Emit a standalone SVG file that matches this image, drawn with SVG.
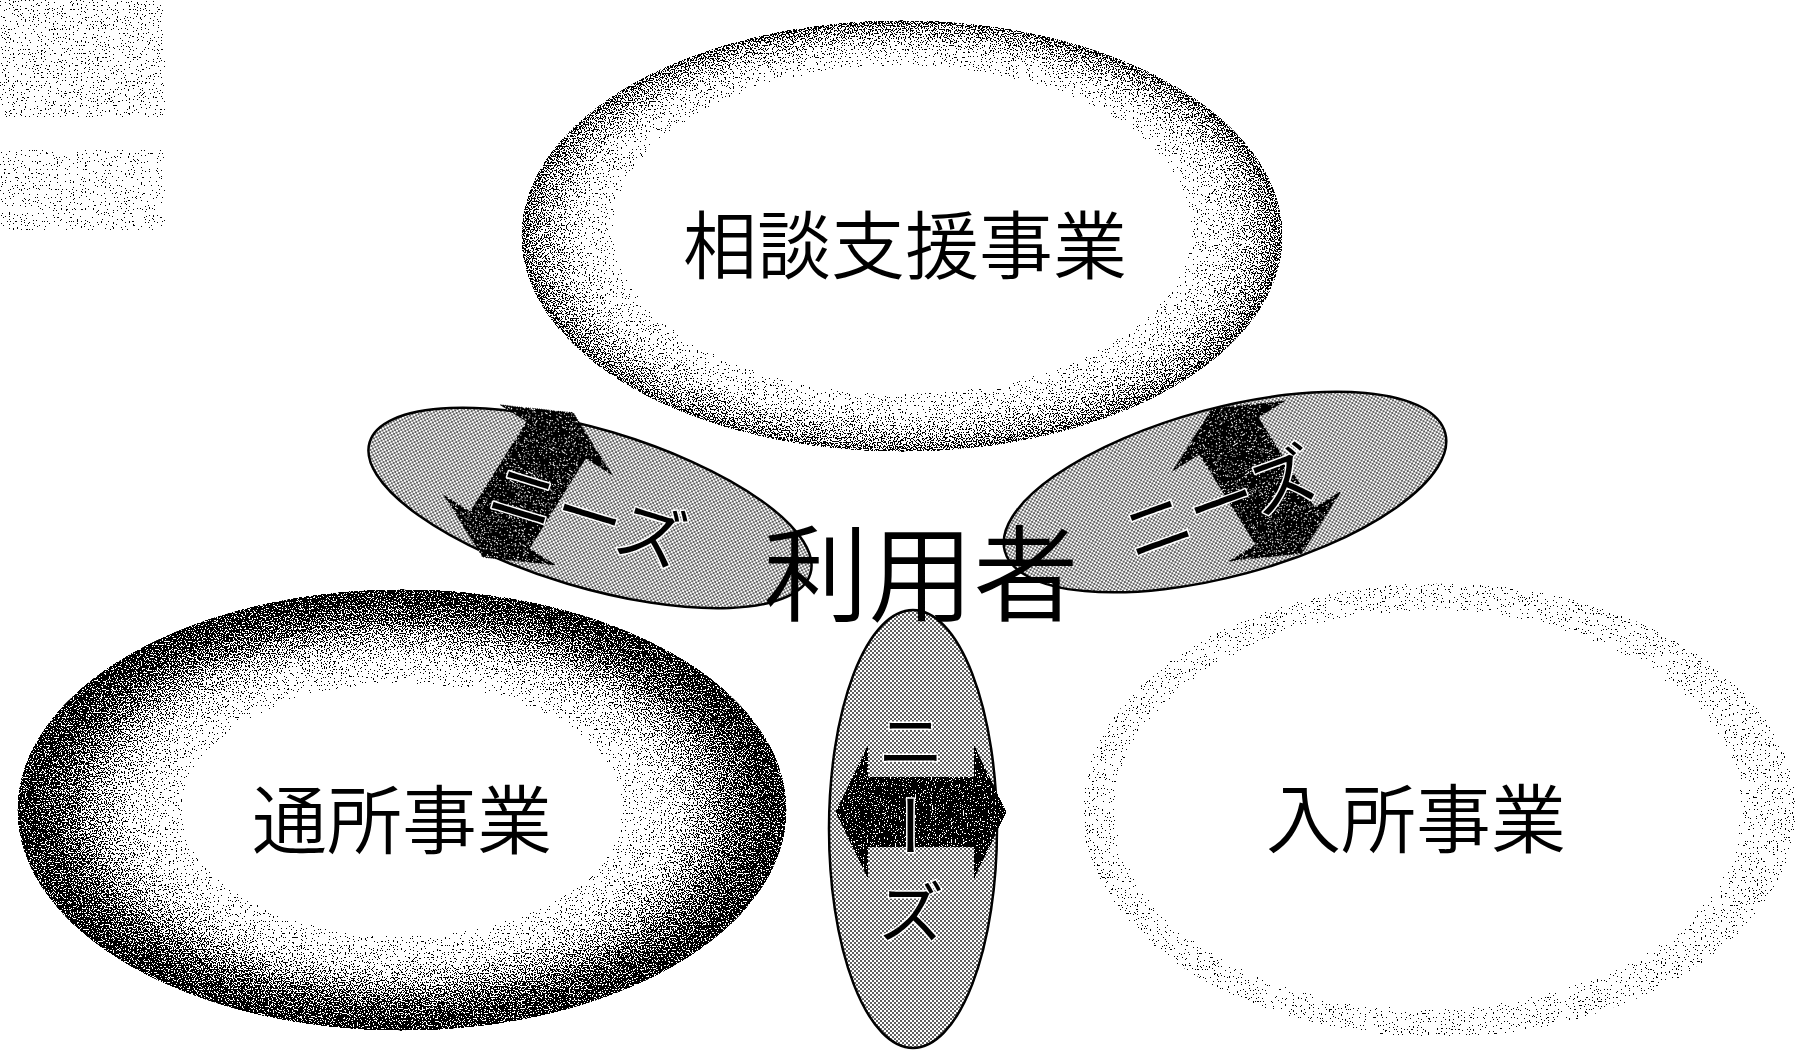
<svg xmlns="http://www.w3.org/2000/svg" width="1796" height="1052" viewBox="0 0 1796 1052">
  <style>
    .lbl { font-family: "Noto Sans CJK JP", "Noto Sans CJK SC", sans-serif; font-weight: 350; fill: #000; dominant-baseline: central; text-anchor: middle; }
    .big { font-size: 75px; }
    .need { font-size: 68px; font-weight: 400; stroke: #fff; stroke-width: 3px; paint-order: stroke; stroke-linejoin: round; }
    .bubble { fill: url(#dots); stroke: #000; stroke-width: 2.5; }
    .arrow { fill: #161616; filter: url(#dither); }
  </style>
  <defs>
    <filter id="dither" x="-3%" y="-3%" width="106%" height="106%" color-interpolation-filters="sRGB">
      <feTurbulence type="fractalNoise" baseFrequency="0.75" numOctaves="1" seed="7" result="t"/>
      <feColorMatrix in="t" type="matrix" values="3 0 0 0 -1  3 0 0 0 -1  3 0 0 0 -1  0 0 0 0 1" result="n"/>
      <feComposite in="SourceGraphic" in2="n" operator="arithmetic" k1="0" k2="20" k3="-20" k4="1" result="d"/>
      <feComponentTransfer in="d" result="b">
        <feFuncR type="discrete" tableValues="0 1"/>
        <feFuncG type="discrete" tableValues="0 1"/>
        <feFuncB type="discrete" tableValues="0 1"/>
      </feComponentTransfer>
      <feComposite in="b" in2="SourceGraphic" operator="in"/>
    </filter>
    <radialGradient id="gTop" cx="50%" cy="50%" r="50%" fx="50%" fy="44%">
      <stop offset="0" stop-color="#fff"/>
      <stop offset="0.74" stop-color="#fff"/>
      <stop offset="0.86" stop-color="#d8d8d8"/>
      <stop offset="0.95" stop-color="#949494"/>
      <stop offset="1" stop-color="#666"/>
    </radialGradient>
    <radialGradient id="gLeft" cx="50%" cy="50%" r="50%">
      <stop offset="0" stop-color="#fff"/>
      <stop offset="0.55" stop-color="#fff"/>
      <stop offset="0.7" stop-color="#d4d4d4"/>
      <stop offset="0.83" stop-color="#7a7a7a"/>
      <stop offset="0.94" stop-color="#3a3a3a"/>
      <stop offset="1" stop-color="#2a2a2a"/>
    </radialGradient>
    <radialGradient id="gRight" cx="50%" cy="50%" r="50%" fx="38%" fy="50%">
      <stop offset="0" stop-color="#fff"/>
      <stop offset="0.78" stop-color="#fff"/>
      <stop offset="0.92" stop-color="#f6f6f6"/>
      <stop offset="1" stop-color="#eaeaea"/>
    </radialGradient>
    <pattern id="dots" width="4" height="4" patternUnits="userSpaceOnUse">
      <rect width="4" height="4" fill="#fff"/>
      <rect width="2" height="2" fill="#606060"/>
      <rect x="2" y="2" width="2" height="2" fill="#606060"/>
    </pattern>
    <polygon id="dblArrow" points="0,-86 68,-53 35,-53 35,53 68,53 0,86 -68,53 -35,53 -35,-53 -68,-53"/>
  </defs>

  <rect width="1796" height="1052" fill="#fff"/>

  <g id="scan-noise">
    <rect x="0" y="0" width="165" height="117" fill="#ececec" filter="url(#dither)"/>
    <rect x="0" y="150" width="165" height="80" fill="#f7f7f7" filter="url(#dither)"/>
  </g>

  <g id="node-soudan">
    <ellipse cx="902" cy="236" rx="381" ry="216" fill="url(#gTop)" filter="url(#dither)"/>
    <text class="lbl" x="905" y="240" style="font-size:74px">相談支援事業</text>
  </g>

  <g id="node-tsusho">
    <ellipse cx="402" cy="810" rx="385" ry="221" fill="url(#gLeft)" filter="url(#dither)"/>
    <text class="lbl big" x="402" y="815">通所事業</text>
  </g>

  <g id="node-nyusho">
    <ellipse cx="1439" cy="810" rx="357" ry="227" fill="url(#gRight)" filter="url(#dither)"/>
    <text class="lbl big" x="1416" y="814">入所事業</text>
  </g>

  <g id="bubble-left">
    <ellipse class="bubble" cx="590" cy="508" rx="230" ry="79" transform="rotate(16.6 590 508)"/>
  </g>
  <g id="bubble-right">
    <ellipse class="bubble" cx="1225" cy="492" rx="228" ry="84" transform="rotate(-15 1225 492)"/>
  </g>
  <g id="bubble-bottom">
    <ellipse class="bubble" cx="913" cy="829" rx="84" ry="219"/>
  </g>

  <g id="connectors">
    <use href="#dblArrow" class="arrow" transform="translate(528 485) rotate(32)"/>
    <use href="#dblArrow" class="arrow" transform="translate(1257 481) rotate(-32)"/>
    <use href="#dblArrow" class="arrow" transform="translate(921 812) rotate(90)"/>
    <text class="lbl need" x="0" y="0" transform="translate(589 511) rotate(17)">ニーズ</text>
    <text class="lbl need" x="0" y="0" transform="translate(1218 499) rotate(-20)">ニーズ</text>
    <text class="lbl need" x="911" y="835" style="writing-mode: vertical-rl; letter-spacing: 18px">ニーズ</text>
  </g>

  <g id="node-riyousha">
    <text class="lbl" x="921" y="567" style="font-size:105px">利用者</text>
  </g>
</svg>
